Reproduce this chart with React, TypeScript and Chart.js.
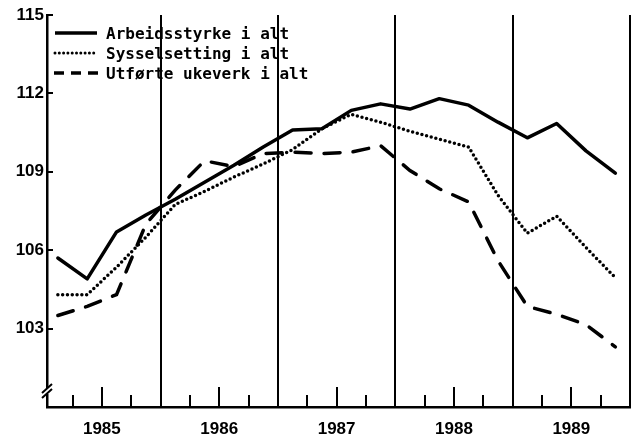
import React, { useEffect, useRef } from 'react';
import { Chart, registerables } from 'chart.js';

Chart.register(...registerables);

// Quarterly observations 1985K1 .. 1989K4
const quarters = [
  '1985K1', '1985K2', '1985K3', '1985K4',
  '1986K1', '1986K2', '1986K3', '1986K4',
  '1987K1', '1987K2', '1987K3', '1987K4',
  '1988K1', '1988K2', '1988K3', '1988K4',
  '1989K1', '1989K2', '1989K3', '1989K4',
];
const years = ['1985', '1986', '1987', '1988', '1989'];

const arbeidsstyrke = [
  105.7, 104.9, 106.7, 107.35, 107.95, 108.6, 109.25, 109.95, 110.6, 110.65,
  111.35, 111.6, 111.4, 111.8, 111.55, 110.9, 110.3, 110.85, 109.8, 108.95,
];
const sysselsetting = [
  104.3, 104.3, 105.35, 106.5, 107.75, 108.25, 108.8, 109.3, 109.85, 110.65,
  111.2, 110.9, 110.55, 110.25, 109.95, 108.1, 106.65, 107.3, 106.1, 104.95,
];
const ukeverk = [
  103.5, 103.85, 104.3, 107.0, 108.3, 109.42, 109.2, 109.7, 109.75, 109.7,
  109.75, 110.0, 109.05, 108.35, 107.85, 105.6, 103.85, 103.55, 103.15, 102.3,
];

const yTicks = [103, 106, 109, 112, 115];
const seriesLabels = ['Arbeidsstyrke i alt', 'Sysselsetting i alt', 'Utførte ukeverk i alt'];

const isYearBoundary = (v: number) => Math.abs(((v - 3.5) % 4 + 4) % 4) < 1e-6;
const isMidYear = (v: number) => Math.abs(((v - 1.5) % 4 + 4) % 4) < 1e-6;

const decorPlugin = {
  id: 'decor',
  afterDraw(chart: any) {
    const { ctx, chartArea, scales } = chart;
    const xs = scales.x;
    const ys = scales.y;
    ctx.save();
    ctx.strokeStyle = '#000';
    ctx.fillStyle = '#000';
    ctx.lineCap = 'butt';
    // inward quarter ticks on bottom axis
    ctx.lineWidth = 2;
    for (let j = 1; j <= quarters.length; j++) {
      const b = j - 0.5;
      if (isYearBoundary(b)) continue;
      const len = isMidYear(b) ? 20 : 12;
      const px = Math.round(xs.getPixelForValue(b));
      ctx.beginPath();
      ctx.moveTo(px, chartArea.bottom);
      ctx.lineTo(px, chartArea.bottom - len);
      ctx.stroke();
    }
    // inward y ticks
    for (const v of yTicks) {
      const py = Math.round(ys.getPixelForValue(v));
      ctx.beginPath();
      ctx.moveTo(chartArea.left, py);
      ctx.lineTo(chartArea.left + 6, py);
      ctx.stroke();
    }
    // axis break
    const l = chartArea.left;
    ctx.fillStyle = '#fff';
    ctx.fillRect(l - 3, 388, 6, 6);
    ctx.lineWidth = 2;
    ctx.beginPath();
    ctx.moveTo(l - 5, 393);
    ctx.lineTo(l + 5, 384);
    ctx.moveTo(l - 5, 398);
    ctx.lineTo(l + 5, 389);
    ctx.stroke();

    // legend
    ctx.fillStyle = '#000';
    ctx.lineWidth = 3.5;
    ctx.beginPath();
    ctx.moveTo(55, 33);
    ctx.lineTo(97, 33);
    ctx.stroke();

    ctx.lineCap = 'round';
    ctx.setLineDash([0, 4.3]);
    ctx.lineWidth = 3;
    ctx.beginPath();
    ctx.moveTo(55, 53);
    ctx.lineTo(95, 53);
    ctx.stroke();

    ctx.lineCap = 'butt';
    ctx.lineWidth = 3.5;
    ctx.setLineDash([10, 7]);
    ctx.beginPath();
    ctx.moveTo(54, 73);
    ctx.lineTo(98, 73);
    ctx.stroke();
    ctx.setLineDash([]);

    ctx.font = 'bold 16px "DejaVu Sans Mono"';
    ctx.textBaseline = 'alphabetic';
    ctx.textAlign = 'left';
    ctx.fillText(seriesLabels[0], 106, 39);
    ctx.fillText(seriesLabels[1], 106, 59);
    ctx.fillText(seriesLabels[2], 106, 79);
    ctx.restore();
  },
};

export default function App() {
  const ref = useRef<HTMLCanvasElement | null>(null);
  useEffect(() => {
    document.body.style.margin = '0';
    const canvas = ref.current;
    if (!canvas) return;
    const toPts = (arr: number[]) => arr.map((y, i) => ({ x: i, y }));
    const chart = new Chart(canvas, {
      type: 'line',
      data: {
        datasets: [
          {
            label: seriesLabels[0],
            data: toPts(arbeidsstyrke),
            borderColor: '#000',
            borderWidth: 3.5,
            pointRadius: 0,
            tension: 0,
            borderJoinStyle: 'round',
            borderCapStyle: 'round',
          },
          {
            label: seriesLabels[1],
            data: toPts(sysselsetting),
            borderColor: '#000',
            borderWidth: 3.5,
            pointRadius: 0,
            tension: 0,
            borderDash: [0, 4.8],
            borderCapStyle: 'round',
          },
          {
            label: seriesLabels[2],
            data: toPts(ukeverk),
            borderColor: '#000',
            borderWidth: 3.5,
            pointRadius: 0,
            tension: 0,
            borderDash: [16, 13],
            borderCapStyle: 'round',
          },
        ],
      },
      options: {
        responsive: false,
        animation: false,
        parsing: false as any,
        layout: { padding: { top: 15, right: 9, left: 0, bottom: 0 } },
        plugins: {
          legend: { display: false },
          tooltip: { enabled: false },
        },
        scales: {
          x: {
            type: 'linear',
            min: -0.37,
            max: 19.5,
            afterBuildTicks: (s: any) => {
              s.ticks = quarters.map((_, j) => ({ value: j + 0.5 }));
            },
            afterFit: (s: any) => {
              s.height = 30;
              s.paddingLeft = 0;
              s.paddingRight = 0;
            },
            ticks: {
              autoSkip: false,
              maxRotation: 0,
              padding: 12,
              color: '#000',
              font: { family: '"Liberation Sans"', size: 17, weight: 'bold' },
              callback: (v: any) => (isMidYear(Number(v)) ? years[Math.round((Number(v) - 1.5) / 4)] : ''),
            },
            grid: {
              drawTicks: false,
              lineWidth: 2,
              color: (c: any) => (c.tick && isYearBoundary(c.tick.value) ? '#000' : 'rgba(0,0,0,0)'),
            },
            border: { display: true, color: '#000', width: 2.5 },
          },
          y: {
            type: 'linear',
            min: 100,
            max: 115,
            afterBuildTicks: (s: any) => {
              s.ticks = yTicks.map((v) => ({ value: v }));
            },
            afterFit: (s: any) => {
              s.width = 47;
              s.paddingTop = 0;
              s.paddingBottom = 0;
            },
            ticks: {
              padding: 3,
              color: '#000',
              font: { family: '"Liberation Sans"', size: 17, weight: 'bold' },
            },
            grid: { display: false, drawTicks: false },
            border: { display: true, color: '#000', width: 2.5 },
          },
        },
      },
      plugins: [decorPlugin],
    });
    return () => chart.destroy();
  }, []);
  return (
    <div style={{ width: 639, height: 437, background: '#fff' }}>
      <canvas ref={ref} width={639} height={437} style={{ display: 'block' }} />
    </div>
  );
}
